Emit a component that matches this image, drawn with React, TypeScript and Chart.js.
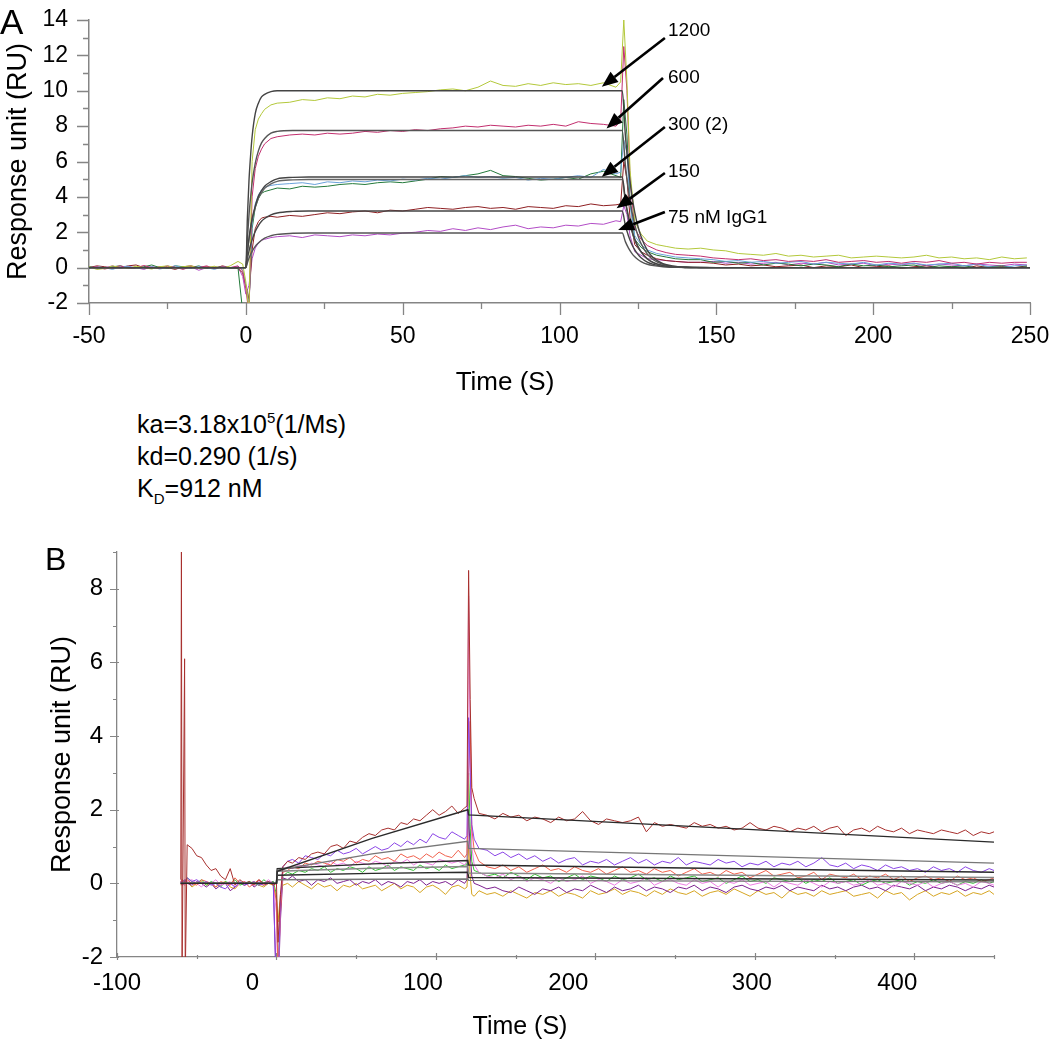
import React, { useEffect, useRef } from 'react';
import { Chart, registerables } from 'chart.js';
Chart.register(...registerables);

const FONT = "'Liberation Sans', Arial, Helvetica, sans-serif";

// ---------------- Panel A data ----------------
const timeA = [
  -50, -47.5, -45, -42.5, -40, -37.5, -35, -32.5, -30, -27.5, -25, -22.5, -20, -17.5, -15, -12.5, -10, -7.5, -5, -2.5,
  -1, 0, 1,
  2, 3, 4, 5, 6, 8,
  10, 14, 18, 22, 26, 30, 34, 38, 42, 46, 50, 54, 58, 62, 66, 70, 74, 78, 82, 86, 90, 94, 98, 102, 106, 110, 114, 118,
  119.5, 120.5, 121.5, 122.5, 124, 126, 128, 131, 134, 137, 141,
  145, 149, 153, 157, 161, 165, 169, 173, 177, 181, 185, 189, 193, 197, 201, 205, 209, 213, 217, 221, 225, 229, 233, 237, 241, 245, 249,
];
const a1200 = [
  0.05, -0.1, -0.05, 0.1, 0.0, -0.05, 0.08, 0.0, -0.08, 0.05, 0.1, -0.02, 0.05, 0.1, -0.05, 0.0, 0.08, -0.05, 0.1, 0.35,
  0.2, -0.8, -2.5,
  6.0, 7.8, 8.4, 8.7, 8.95, 9.2,
  9.3, 9.35, 9.5, 9.45, 9.6, 9.55, 9.7, 9.65, 9.8, 9.75, 9.85, 9.9, 9.95, 10.05, 10.1, 10.0, 10.2, 10.55, 10.3, 10.25, 10.4, 10.3, 10.45, 10.35, 10.4, 10.3, 10.45, 10.2,
  10.5, 14.0, 10.5, 5.5, 2.6, 1.9, 1.5, 1.3, 1.2, 1.1, 1.05,
  1.1, 1.0, 0.95, 0.8, 0.75, 0.7, 0.8, 0.65, 0.7, 0.6, 0.65, 0.7, 0.55, 0.6, 0.65, 0.6, 0.55, 0.6, 0.7, 0.55, 0.6, 0.5, 0.55, 0.45, 0.6, 0.5, 0.55,
];
const a600 = [
  0.0, 0.05, -0.08, 0.02, 0.1, -0.05, 0.0, 0.12, 0.0, -0.05, 0.08, 0.02, -0.1, 0.05, 0.0, 0.1, -0.05, 0.05, 0.0, 0.1,
  -0.2, -1.2, -2.6,
  4.0, 5.6, 6.3, 6.7, 7.0, 7.3,
  7.4, 7.5, 7.55, 7.5, 7.6, 7.55, 7.6, 7.7, 7.65, 7.75, 7.7, 7.8, 7.75, 7.85, 7.9, 8.0, 7.95, 8.05, 8.0, 7.95, 8.05, 8.0, 8.1, 8.0, 8.25, 8.15, 8.1, 8.0,
  8.3, 12.5, 10.0, 5.0, 2.2, 1.6, 1.25, 1.0, 0.85, 0.75, 0.7,
  0.65, 0.55, 0.5, 0.45, 0.5, 0.4, 0.45, 0.35, 0.4, 0.35, 0.45, 0.3, 0.35, 0.4, 0.3, 0.35, 0.25, 0.35, 0.3, 0.4, 0.25, 0.3, 0.2, 0.3, 0.25, 0.3, 0.3,
];
const a300 = [
  -0.05, 0.05, 0.0, -0.1, 0.05, 0.08, -0.05, 0.0, 0.05, -0.08, 0.0, 0.1, 0.0, -0.05, 0.05, 0.0, -0.1, 0.05, 0.0, 0.05,
  -0.1, -1.0, -2.2,
  2.5, 3.6, 4.1, 4.4, 4.55, 4.65,
  4.7, 4.75, 4.8, 4.7, 4.85, 4.8, 4.9, 4.85, 4.95, 4.9, 5.0, 4.95, 5.05, 5.0, 5.1, 5.2, 5.1, 5.15, 5.05, 5.1, 4.95, 5.05, 5.0, 5.1, 5.2, 5.1, 5.55, 5.3,
  5.4, 7.2, 6.5, 3.5, 1.8, 1.3, 1.0, 0.8, 0.7, 0.6, 0.55,
  0.5, 0.45, 0.35, 0.4, 0.3, 0.35, 0.25, 0.3, 0.35, 0.2, 0.3, 0.25, 0.2, 0.3, 0.15, 0.25, 0.2, 0.25, 0.15, 0.2, 0.25, 0.1, 0.2, 0.05, 0.0, 0.1, 0.15,
];
const a300b = [
  0.05, 0.0, -0.05, 0.05, 0.1, 0.0, -0.05, 0.05, 0.15, 0.0, -0.05, 0.1, 0.05, 0.0, 0.1, -0.05, 0.0, 0.05, -0.05, 0.0,
  -2.5, -3.0, -2.0,
  2.2, 3.4, 3.9, 4.2, 4.3, 4.4,
  4.5, 4.45, 4.6, 4.55, 4.6, 4.7, 4.75, 4.7, 4.8, 4.85, 4.8, 4.9, 5.0, 5.15, 5.1, 5.2, 5.3, 5.5, 5.2, 5.15, 5.05, 4.95, 5.0, 5.1, 5.0, 5.3, 5.45, 5.2,
  5.1, 9.5, 7.5, 3.8, 1.6, 1.15, 0.9, 0.7, 0.6, 0.5, 0.45,
  0.45, 0.3, 0.35, 0.25, 0.3, 0.15, 0.25, 0.2, 0.1, 0.2, 0.15, 0.05, 0.2, 0.1, 0.15, 0.05, 0.1, 0.15, 0.0, 0.1, 0.05, 0.1, 0.0, 0.05, 0.1, 0.0, 0.05,
];
const a150 = [
  0.0, 0.1, 0.05, -0.05, 0.0, 0.1, 0.15, 0.0, -0.05, 0.05, 0.0, -0.1, 0.05, 0.1, 0.0, 0.05, -0.05, 0.1, 0.0, -0.05,
  -0.3, -1.0, -1.8,
  1.0, 2.2, 2.6, 2.8, 2.85, 2.9,
  2.85, 2.95, 2.9, 3.0, 3.1, 3.05, 3.15, 3.2, 3.1, 3.25, 3.2, 3.3, 3.4, 3.35, 3.3, 3.4, 3.45, 3.35, 3.4, 3.3, 3.45, 3.4, 3.35, 3.5, 3.45, 3.6, 3.5, 3.55,
  3.6, 6.0, 5.0, 2.8, 1.3, 0.9, 0.7, 0.5, 0.4, 0.35, 0.3,
  0.3, 0.25, 0.15, 0.2, 0.1, 0.15, 0.05, 0.1, 0.15, 0.0, 0.1, 0.05, 0.15, 0.0, 0.05, 0.1, -0.05, 0.05, 0.1, 0.0, 0.05, -0.05, 0.1, 0.0, 0.05, 0.0, 0.1,
];
const a75 = [
  0.05, -0.05, 0.0, 0.1, -0.05, 0.05, 0.0, -0.1, 0.05, 0.0, 0.1, 0.0, -0.05, 0.05, -0.15, 0.0, 0.05, 0.0, -0.05, 0.05,
  -0.5, -1.5, -1.0,
  0.5, 1.1, 1.4, 1.55, 1.6, 1.7,
  1.75, 1.8, 1.7, 1.85, 1.8, 1.75, 1.85, 1.8, 1.9, 1.85, 1.95, 2.0, 2.1, 2.05, 2.2, 2.1, 2.25, 2.15, 2.3, 2.4, 2.2, 2.3, 2.25, 2.4, 2.35, 2.5, 2.45, 2.65,
  2.6, 3.5, 3.0, 1.8, 0.9, 0.7, 0.5, 0.45, 0.4, 0.35, 0.3,
  0.3, 0.35, 0.25, 0.3, 0.2, 0.25, 0.3, 0.15, 0.25, 0.2, 0.3, 0.15, 0.2, 0.25, 0.1, 0.2, 0.15, 0.25, 0.1, 0.2, 0.15, 0.1, 0.2, 0.15, 0.1, 0.2, 0.15,
];

// fitted curves, panel A
const fitTimeA = [-50, 0, 0.5, 1, 1.5, 2, 3, 4, 5, 6, 8, 10, 15, 20, 120, 121, 122, 123, 124, 125, 126, 128, 130, 133, 136, 140, 145, 150, 250];
const fitA1200 = [0, 0, 2.85, 4.9, 6.3, 7.4, 8.7, 9.3, 9.65, 9.8, 9.95, 10.0, 10.0, 10.0, 10.0, 7.48, 5.6, 4.19, 3.13, 2.34, 1.76, 0.98, 0.55, 0.23, 0.1, 0.03, 0.01, 0, 0];
const fitA600 = [0, 0, 1.63, 2.95, 3.95, 4.8, 5.9, 6.6, 7.05, 7.3, 7.6, 7.7, 7.75, 7.75, 7.75, 5.8, 4.34, 3.25, 2.43, 1.81, 1.36, 0.76, 0.43, 0.18, 0.07, 0.02, 0.01, 0, 0];
const fitA300 = [0, 0, 0.9, 1.64, 2.25, 2.76, 3.48, 4.04, 4.35, 4.6, 4.86, 5.02, 5.1, 5.12, 5.12, 3.83, 2.87, 2.15, 1.6, 1.2, 0.9, 0.5, 0.28, 0.12, 0.05, 0.02, 0, 0, 0];
const fitA300b = [0, 0, 0.87, 1.59, 2.19, 2.69, 3.39, 3.93, 4.23, 4.48, 4.73, 4.88, 4.96, 4.98, 4.98, 3.72, 2.79, 2.09, 1.56, 1.17, 0.88, 0.49, 0.27, 0.11, 0.05, 0.01, 0, 0, 0];
const fitA150 = [0, 0, 0.5, 0.93, 1.28, 1.57, 2.05, 2.37, 2.62, 2.78, 2.98, 3.09, 3.18, 3.2, 3.2, 2.39, 1.79, 1.34, 1.0, 0.75, 0.56, 0.31, 0.18, 0.07, 0.03, 0.01, 0, 0, 0];
const fitA75 = [0, 0, 0.28, 0.53, 0.74, 0.92, 1.2, 1.39, 1.55, 1.67, 1.8, 1.88, 1.94, 1.96, 1.96, 1.47, 1.1, 0.82, 0.61, 0.46, 0.34, 0.19, 0.11, 0.05, 0.02, 0.01, 0, 0, 0];

// arrow annotations, panel A (data coordinates)
const arrowLabels = ['1200', '600', '300 (2)', '150', '75 nM IgG1'];
const arrowTipT = [113.5, 115.0, 113.5, 118.2, 118.7];
const arrowTipR = [10.23, 7.87, 5.14, 3.35, 2.13];
const arrowTailT = [133.6, 133.0, 133.6, 133.6, 133.6];
const arrowTailR = [12.98, 10.72, 7.95, 5.35, 3.14];
const labelT = [134.6, 134.6, 134.6, 134.6, 134.6];
const labelR = [13.4, 10.72, 8.06, 5.4, 2.8];

// ---------------- Panel B data ----------------
const timeB = [
  -60, -59.6, -59.2, -57.6, -57.2, -56, -53, -50, -47, -44, -41, -38, -35, -32, -29, -26, -23, -20, -17, -14, -11, -8, -5, -2,
  0, 1, 2.5,
  4, 7, 10, 14, 18, 22, 26, 30, 34, 38, 42, 46, 50, 54, 58, 62, 66, 70, 74, 78, 82, 86, 90, 94, 98, 102, 106, 110, 114, 118,
  119.5, 120.5, 121.5, 122.5, 124,
  127, 132, 137, 142, 147, 152, 157, 162, 167, 172, 177, 182, 187, 192, 197, 202, 207, 212, 217, 222,
  227, 232, 237, 242, 247, 252, 257, 262, 267, 272, 277, 282, 287, 292, 297, 302, 307, 312, 317, 322,
  327, 332, 337, 342, 347, 352, 357, 362, 367, 372, 377, 382, 387, 392, 397, 402, 407, 412, 417, 422,
  427, 432, 437, 442, 447, 450,
];
const bDarkRed = [
  0.1, 9.6, -2.6, 6.1, -2.6, 1.05, 0.95, 0.75, 0.7, 0.5, 0.35, 0.4, 0.2, 0.1, 0.4, -0.05, 0.1, 0.0, 0.05, -0.05, 0.1, 0.0, 0.05, -0.05,
  0.0, -1.6, -0.3,
  0.45, 0.6, 0.55, 0.7, 0.65, 0.8, 0.85, 0.8, 1.0, 1.05, 0.95, 1.15, 1.1, 1.25, 1.35, 1.3, 1.45, 1.5, 1.45, 1.65, 1.6, 1.75, 1.7, 1.85, 2.0, 1.85, 1.95, 2.1, 1.9, 2.05,
  2.1, 8.5, 5.0, 2.6, 2.3,
  1.9, 1.85, 1.75, 1.9, 1.8, 1.85, 1.7, 1.8, 1.75, 1.65, 1.8, 1.7, 1.75, 1.95, 1.7, 1.6, 1.75, 1.7, 1.65, 1.7,
  1.8, 1.4, 1.65, 1.55, 1.6, 1.55, 1.5, 1.65, 1.55, 1.6, 1.5, 1.55, 1.45, 1.5, 1.65, 1.5, 1.45, 1.55, 1.5, 1.4,
  1.5, 1.45, 1.55, 1.4, 1.5, 1.55, 1.3, 1.45, 1.5, 1.4, 1.55, 1.45, 1.4, 1.5, 1.35, 1.45, 1.4, 1.35, 1.45, 1.4,
  1.35, 1.45, 1.3, 1.4, 1.35, 1.4,
];
const bViolet = [
  0.0, 0.05, 0.0, 0.1, 0.05, 0.15, 0.05, 0.1, 0.0, 0.05, -0.05, 0.0, -0.1, -0.15, 0.0, -0.1, 0.05, -0.05, 0.0, 0.05, -0.05, 0.0, 0.05, 0.0,
  -3.0, -3.0, -0.5,
  0.45, 0.6, 0.65, 0.55, 0.75, 0.7, 0.65, 0.8, 0.75, 0.9, 0.8, 0.85, 0.95, 0.8, 0.9, 1.0, 0.9, 0.95, 1.1, 1.0, 1.15, 1.05, 1.2, 1.1, 1.35, 1.25, 1.2, 1.4, 1.3, 1.2,
  1.3, 4.5, 3.0, 1.6, 1.2,
  0.95, 0.9, 0.75, 0.85, 0.7, 0.8, 0.65, 0.75, 0.6, 0.7, 0.55, 0.65, 0.7, 0.5, 0.6, 0.55, 0.65, 0.5, 0.6, 0.7,
  0.55, 0.65, 0.5, 0.6, 0.55, 0.7, 0.5, 0.6, 0.55, 0.5, 0.65, 0.55, 0.6, 0.45, 0.55, 0.5, 0.6, 0.45, 0.55, 0.5,
  0.6, 0.45, 0.55, 0.7, 0.5, 0.45, 0.55, 0.4, 0.5, 0.45, 0.35, 0.5, 0.4, 0.45, 0.35, 0.4, 0.3, 0.45, 0.35, 0.4,
  0.3, 0.45, 0.35, 0.3, 0.4, 0.35,
];
const bSalmon = [
  0.05, 0.0, 0.1, 0.0, 0.05, 0.1, 0.0, -0.05, 0.1, 0.05, 0.0, -0.1, 0.05, 0.0, -0.05, 0.15, 0.0, 0.05, -0.1, 0.0, 0.1, -0.05, 0.05, 0.0,
  -0.5, -2.5, -0.8,
  0.3, 0.35, 0.45, 0.4, 0.55, 0.5, 0.6, 0.55, 0.5, 0.65, 0.6, 0.7, 0.55, 0.65, 0.6, 0.75, 0.65, 0.7, 0.6, 0.8, 0.7, 0.75, 0.65, 0.8, 0.7, 0.85, 0.75, 0.7, 0.9, 0.7,
  0.8, 3.0, 4.4, 1.5, 0.9,
  0.6, 0.45, 0.4, 0.5, 0.35, 0.45, 0.3, 0.4, 0.5, 0.35, 0.4, 0.3, 0.45, 0.35, 0.3, 0.4, 0.25, 0.35, 0.45, 0.3,
  0.35, 0.25, 0.4, 0.3, 0.35, 0.2, 0.3, 0.4, 0.25, 0.3, 0.2, 0.35, 0.25, 0.3, 0.15, 0.25, 0.35, 0.2, 0.25, 0.3,
  0.15, 0.2, 0.3, 0.1, 0.25, 0.2, 0.15, 0.25, 0.1, 0.2, 0.15, 0.25, 0.1, 0.2, 0.05, 0.15, 0.2, 0.1, 0.15, 0.05,
  0.2, 0.1, 0.15, 0.05, 0.1, 0.15,
];
const bPink = [
  0.0, 0.1, 0.05, -0.05, 0.0, 0.05, 0.1, 0.0, -0.1, 0.05, 0.0, 0.1, -0.05, 0.0, 0.05, -0.1, 0.0, 0.05, 0.0, -0.05, 0.05, 0.0, 0.1, 0.0,
  -0.8, -3.0, -0.6,
  0.35, 0.45, 0.4, 0.5, 0.45, 0.55, 0.5, 0.45, 0.6, 0.5, 0.55, 0.45, 0.6, 0.55, 0.5, 0.6, 0.55, 0.45, 0.6, 0.55, 0.65, 0.5, 0.6, 0.55, 0.5, 0.65, 0.6, 0.55, 0.6, 0.5,
  0.6, 7.8, 3.5, 1.0, 0.5,
  0.3, 0.2, 0.15, 0.25, 0.1, 0.2, 0.05, 0.15, 0.1, 0.0, 0.15, 0.05, 0.1, 0.2, 0.0, 0.1, 0.05, -0.05, 0.1, 0.0,
  0.05, 0.15, -0.05, 0.05, 0.1, 0.0, -0.05, 0.1, 0.0, 0.05, -0.1, 0.05, 0.0, 0.1, -0.05, 0.0, 0.05, -0.1, 0.05, 0.0,
  -0.05, 0.1, 0.0, -0.1, 0.05, 0.0, 0.05, -0.05, 0.0, 0.1, -0.05, 0.0, -0.1, 0.05, 0.0, -0.05, 0.05, -0.1, 0.0, 0.05,
  -0.05, 0.0, -0.1, 0.05, 0.0, -0.05,
];
const bGreen = [
  0.05, 0.0, 0.1, 0.05, 0.0, 0.15, 0.05, 0.0, 0.1, -0.05, 0.05, 0.0, -0.1, 0.05, 0.0, 0.1, -0.05, 0.0, 0.05, 0.0, -0.05, 0.1, 0.0, 0.05,
  -0.3, -2.5, -0.5,
  0.2, 0.3, 0.25, 0.35, 0.3, 0.4, 0.35, 0.45, 0.3, 0.4, 0.35, 0.45, 0.4, 0.3, 0.45, 0.35, 0.4, 0.5, 0.35, 0.45, 0.4, 0.35, 0.5, 0.4, 0.45, 0.35, 0.5, 0.4, 0.45, 0.5,
  0.5, 3.0, 1.5, 0.6, 0.35,
  0.3, 0.2, 0.25, 0.15, 0.3, 0.2, 0.1, 0.25, 0.15, 0.2, 0.05, 0.15, 0.25, 0.1, 0.2, 0.15, 0.05, 0.2, 0.1, 0.15,
  0.25, 0.1, 0.15, 0.05, 0.2, 0.1, 0.15, 0.2, 0.05, 0.1, 0.15, 0.0, 0.1, 0.2, 0.05, 0.1, 0.0, 0.15, 0.1, 0.05,
  0.15, 0.0, 0.1, 0.05, 0.15, 0.0, 0.05, 0.1, -0.05, 0.05, 0.1, 0.0, 0.05, 0.1, -0.05, 0.05, 0.0, 0.1, 0.0, 0.05,
  -0.05, 0.05, 0.0, 0.1, 0.0, 0.05,
];
const bPurple = [
  0.0, 0.05, -0.05, 0.0, 0.1, 0.0, -0.05, 0.05, 0.0, -0.1, 0.0, -0.15, -0.05, 0.0, -0.2, -0.1, 0.0, -0.05, 0.05, -0.1, 0.0, -0.05, 0.0, 0.05,
  -3.0, -3.0, -1.0,
  0.15, 0.1, 0.2, 0.05, 0.1, -0.05, 0.1, 0.05, 0.15, 0.0, 0.05, 0.1, -0.05, 0.05, 0.0, 0.1, -0.05, 0.05, 0.0, -0.1, 0.05, 0.0, 0.1, -0.05, 0.05, 0.0, 0.05, -0.05, 0.1, 0.0,
  0.1, 2.0, 0.8, 0.2, 0.0,
  -0.05, -0.15, -0.1, -0.2, -0.25, -0.1, -0.2, -0.3, -0.15, -0.2, -0.1, -0.25, -0.15, -0.2, -0.05, -0.15, -0.25, -0.1, -0.2, -0.15,
  -0.05, -0.2, -0.1, -0.15, -0.25, -0.1, -0.15, -0.05, -0.2, -0.1, -0.15, -0.25, -0.1, -0.05, -0.15, -0.2, -0.1, -0.15, -0.05, -0.2,
  -0.1, -0.15, -0.2, -0.05, -0.15, -0.1, -0.2, -0.1, -0.05, -0.15, -0.1, -0.2, -0.05, -0.1, -0.15, -0.05, -0.2, -0.1, -0.15, -0.05,
  -0.1, -0.2, -0.1, -0.15, -0.05, -0.1,
];
const bGold = [
  -0.05, 0.0, 0.05, -0.05, 0.0, 0.05, -0.1, 0.0, 0.05, -0.05, 0.0, -0.1, 0.0, 0.05, -0.1, -0.15, 0.0, -0.05, 0.0, 0.05, -0.05, -0.1, 0.0, -0.05,
  -0.4, -1.05, -0.3,
  -0.05, 0.0, -0.1, 0.05, -0.05, -0.15, 0.0, -0.1, -0.05, -0.2, -0.05, -0.1, 0.0, -0.15, -0.1, -0.05, -0.2, -0.1, 0.0, -0.15, -0.05, -0.1, -0.25, -0.1, -0.05, -0.15, -0.3, -0.1, -0.05, -0.15,
  -0.1, 1.0, 0.2, -0.3, -0.35,
  -0.2, -0.3, -0.25, -0.35, -0.2, -0.3, -0.4, -0.25, -0.3, -0.2, -0.35, -0.25, -0.3, -0.4, -0.2, -0.3, -0.25, -0.15, -0.3, -0.2,
  -0.25, -0.35, -0.2, -0.3, -0.15, -0.25, -0.3, -0.2, -0.35, -0.25, -0.2, -0.3, -0.15, -0.25, -0.35, -0.2, -0.3, -0.25, -0.4, -0.2,
  -0.3, -0.25, -0.35, -0.2, -0.3, -0.25, -0.2, -0.35, -0.3, -0.25, -0.4, -0.2, -0.3, -0.25, -0.45, -0.3, -0.2, -0.35, -0.25, -0.3,
  -0.2, -0.35, -0.25, -0.3, -0.2, -0.3,
];

// fitted curves, panel B
const fitTimeB = [-60, 0, 0.5, 60, 120, 120.5, 450];
const fitB1 = [0, 0, 0.33, 1.22, 2.0, 1.86, 1.12];
const fitB2 = [0, 0, 0.36, 0.8, 1.14, 0.95, 0.55];
const fitB3 = [0, 0, 0.4, 0.53, 0.62, 0.5, 0.3];
const fitB4 = [0, 0, 0.33, 0.41, 0.46, 0.28, 0.16];
const fitB5 = [0, 0, 0.22, 0.27, 0.3, 0.16, 0.09];
const fitB6 = [0, 0, 0.1, 0.11, 0.12, 0.08, 0.04];

// ---------------- helpers & plugins ----------------
const pts = (ts: number[], vs: number[]) => ts.map((t, i) => ({ x: t, y: vs[i] }));

const tickPlugin: any = {
  id: 'tickMarks',
  afterDraw(chart: any, _args: any, o: any) {
    const { ctx, chartArea } = chart;
    const xs = chart.scales.x;
    const ys = chart.scales.y;
    ctx.save();
    ctx.strokeStyle = o.color;
    ctx.lineWidth = o.width;
    ctx.beginPath();
    for (const t of xs.ticks) {
      const px = Math.round(xs.getPixelForValue(t.value)) + 0.5;
      const major = Math.abs(t.value % o.xMajor) < 1e-9;
      const s = major ? o.xMajorSpan : o.xMinorSpan;
      ctx.moveTo(px, chartArea.bottom + s[0]);
      ctx.lineTo(px, chartArea.bottom + s[1]);
    }
    for (const t of ys.ticks) {
      const py = Math.round(ys.getPixelForValue(t.value)) + 0.5;
      const major = Math.abs(t.value % o.yMajor) < 1e-9;
      const s = major ? o.yMajorSpan : o.yMinorSpan;
      ctx.moveTo(chartArea.left - s[0], py);
      ctx.lineTo(chartArea.left - s[1], py);
    }
    ctx.stroke();
    // optional hand-placed x tick labels (label centres are nudged like in the source figure)
    if (o.xLabelShift) {
      ctx.fillStyle = '#000';
      ctx.font = `${o.xLabelSize}px ${FONT}`;
      ctx.textAlign = 'center';
      ctx.textBaseline = 'middle';
      for (const t of xs.ticks) {
        if (Math.abs(t.value % o.xMajor) > 1e-9) continue;
        const sh = o.xLabelShift[String(t.value)];
        if (sh === undefined) continue;
        ctx.fillText(String(t.value), xs.getPixelForValue(t.value) + sh, chartArea.bottom + o.xLabelDy);
      }
    }
    ctx.restore();
  },
};

const arrowPlugin: any = {
  id: 'arrowNotes',
  afterDatasetsDraw(chart: any) {
    const xs = chart.scales.x;
    const ys = chart.scales.y;
    const ctx = chart.ctx;
    ctx.save();
    for (let i = 0; i < arrowLabels.length; i++) {
      const x0 = xs.getPixelForValue(arrowTailT[i]);
      const y0 = ys.getPixelForValue(arrowTailR[i]);
      const x1 = xs.getPixelForValue(arrowTipT[i]);
      const y1 = ys.getPixelForValue(arrowTipR[i]);
      const ang = Math.atan2(y1 - y0, x1 - x0);
      const head = 16;
      const half = 6.5;
      const bx = x1 - head * Math.cos(ang);
      const by = y1 - head * Math.sin(ang);
      ctx.strokeStyle = '#000';
      ctx.lineWidth = 2.6;
      ctx.beginPath();
      ctx.moveTo(x0, y0);
      ctx.lineTo(bx, by);
      ctx.stroke();
      ctx.fillStyle = '#000';
      ctx.beginPath();
      ctx.moveTo(x1, y1);
      ctx.lineTo(bx + half * Math.sin(ang), by - half * Math.cos(ang));
      ctx.lineTo(bx - half * Math.sin(ang), by + half * Math.cos(ang));
      ctx.closePath();
      ctx.fill();
      ctx.font = `19px ${FONT}`;
      ctx.textAlign = 'left';
      ctx.textBaseline = 'middle';
      ctx.fillText(arrowLabels[i], xs.getPixelForValue(labelT[i]), ys.getPixelForValue(labelR[i]));
    }
    ctx.restore();
  },
};

function traceDs(label: string, ts: number[], vs: number[], color: string) {
  return { label, data: pts(ts, vs), borderColor: color, borderWidth: 1, pointRadius: 0, tension: 0, fill: false };
}
function fitDs(label: string, ts: number[], vs: number[], color: string, width: number, smooth: boolean) {
  return {
    label, data: pts(ts, vs), borderColor: color, borderWidth: width, pointRadius: 0, fill: false,
    cubicInterpolationMode: smooth ? 'monotone' : 'default', tension: 0,
  };
}

export default function App() {
  const refA = useRef<HTMLCanvasElement>(null);
  const refB = useRef<HTMLCanvasElement>(null);

  useEffect(() => {
    Chart.defaults.font.family = FONT;
    const tickFontA = { family: FONT, size: 23 };
    const tickFontB = { family: FONT, size: 24 };

    const chartA = new Chart(refA.current as HTMLCanvasElement, {
      type: 'line',
      data: {
        datasets: [
          fitDs('fit 1200', fitTimeA, fitA1200, '#444', 1.4, true),
          fitDs('fit 600', fitTimeA, fitA600, '#555', 1.4, true),
          fitDs('fit 300', fitTimeA, fitA300, '#444', 1.4, true),
          fitDs('fit 300 (2)', fitTimeA, fitA300b, '#666', 1.4, true),
          fitDs('fit 150', fitTimeA, fitA150, '#444', 1.4, true),
          fitDs('fit 75', fitTimeA, fitA75, '#555', 1.4, true),
          traceDs('1200 nM', timeA, a1200, '#b3c83a'),
          traceDs('600 nM', timeA, a600, '#c22e6e'),
          traceDs('300 nM', timeA, a300, '#6aa2da'),
          traceDs('300 nM (2)', timeA, a300b, '#23793a'),
          traceDs('150 nM', timeA, a150, '#8e1f22'),
          traceDs('75 nM', timeA, a75, '#b24cc6'),
        ] as any,
      },
      options: {
        responsive: false,
        animation: false,
        events: [],
        layout: { padding: { left: 0, right: 20, top: 20, bottom: 0 } },
        plugins: {
          legend: { display: false },
          tooltip: { enabled: false },
          tickMarks: {
            color: '#858585', width: 1.3,
            xMajor: 50, xMajorSpan: [0, 12], xMinorSpan: [0, 6],
            yMajor: 2, yMajorSpan: [0, 12], yMinorSpan: [0, 6],
          },
        } as any,
        scales: {
          x: {
            type: 'linear', min: -50, max: 250,
            afterFit: (s: any) => { s.height = 97; },
            grid: { display: false, drawTicks: true, tickLength: 20 },
            border: { display: true, color: '#858585', width: 1.5 },
            ticks: {
              stepSize: 25, autoSkip: false, maxRotation: 0, padding: 0, color: '#000', font: tickFontA,
              callback: (v: any) => (Math.abs(v % 50) < 1e-9 ? String(v) : ''),
            },
          },
          y: {
            type: 'linear', min: -2, max: 14,
            afterFit: (s: any) => { s.width = 89; },
            grid: { display: false, drawTicks: true, tickLength: 21 },
            border: { display: true, color: '#858585', width: 1.5 },
            ticks: {
              stepSize: 1, autoSkip: false, padding: 0, color: '#000', font: tickFontA,
              callback: (v: any) => (Math.abs(v % 2) < 1e-9 ? String(v) : ''),
            },
            title: {
              display: true, text: 'Response unit (RU)', color: '#000',
              font: { family: FONT, size: 27 }, padding: { top: 2, bottom: 0 },
            },
          },
        } as any,
      },
      plugins: [tickPlugin, arrowPlugin],
    } as any);

    const chartB = new Chart(refB.current as HTMLCanvasElement, {
      type: 'line',
      data: {
        datasets: [
          fitDs('fit 1', fitTimeB, fitB1, '#2a2a2a', 1.4, false),
          fitDs('fit 2', fitTimeB, fitB2, '#777', 1.4, false),
          fitDs('fit 3', fitTimeB, fitB3, '#2a2a2a', 1.4, false),
          fitDs('fit 4', fitTimeB, fitB4, '#888', 1.4, false),
          fitDs('fit 5', fitTimeB, fitB5, '#2a2a2a', 1.4, false),
          fitDs('fit 6', fitTimeB, fitB6, '#777', 1.4, false),
          traceDs('dark red', timeB, bDarkRed, '#a8302e'),
          traceDs('violet', timeB, bViolet, '#8b45e6'),
          traceDs('salmon', timeB, bSalmon, '#f0624e'),
          traceDs('pink', timeB, bPink, '#ee7ee4'),
          traceDs('green', timeB, bGreen, '#36c236'),
          traceDs('purple', timeB, bPurple, '#7e2190'),
          traceDs('gold', timeB, bGold, '#d6a522'),
        ] as any,
      },
      options: {
        responsive: false,
        animation: false,
        events: [],
        layout: { padding: { left: 0, right: 56, top: 32, bottom: 0 } },
        plugins: {
          legend: { display: false },
          tooltip: { enabled: false },
          tickMarks: {
            color: '#858585', width: 1.2,
            xMajor: 100, xMajorSpan: [-4, 3], xMinorSpan: [-2, 2],
            yMajor: 2, yMajorSpan: [-2, 7], yMinorSpan: [0, 4],
            xLabelShift: { '-100': 0, '0': -24, '100': -13, '200': -27, '300': -3, '400': -17 },
            xLabelSize: 24, xLabelDy: 26,
          },
        } as any,
        scales: {
          x: {
            type: 'linear', min: -100, max: 450,
            afterFit: (s: any) => { s.height = 86; },
            grid: { display: false, drawTicks: false },
            border: { display: true, color: '#858585', width: 1.3 },
            ticks: { display: false, stepSize: 50, autoSkip: false, maxRotation: 0 },
          },
          y: {
            type: 'linear', min: -2, max: 9,
            afterFit: (s: any) => { s.width = 117; },
            grid: { display: false, drawTicks: false },
            border: { display: true, color: '#858585', width: 1.3 },
            ticks: {
              stepSize: 1, autoSkip: false, padding: 14, color: '#000', font: tickFontB,
              callback: (v: any) => (Math.abs(v % 2) < 1e-9 && v < 9 ? String(v) : ''),
            },
            title: {
              display: true, text: 'Response unit (RU)', color: '#000',
              font: { family: FONT, size: 27 }, padding: { top: 46, bottom: 0 },
            },
          },
        } as any,
      },
      plugins: [tickPlugin],
    } as any);

    return () => {
      chartA.destroy();
      chartB.destroy();
    };
  }, []);

  const txt: React.CSSProperties = { position: 'absolute', whiteSpace: 'nowrap', color: '#000' };
  return (
    <div style={{ position: 'absolute', left: 0, top: 0, width: 1050, height: 1043, fontFamily: FONT, background: '#fff', overflow: 'hidden' }}>
      <canvas ref={refA} width={1050} height={400} style={{ position: 'absolute', left: 0, top: 0 }} />
      <canvas ref={refB} width={1050} height={523} style={{ position: 'absolute', left: 0, top: 520 }} />
      <div style={{ ...txt, left: 0, top: 4, fontSize: 35, lineHeight: '35px' }}>A</div>
      <div style={{ ...txt, left: 45, top: 543, fontSize: 32, lineHeight: '32px' }}>B</div>
      <div style={{ ...txt, left: 405, top: 365, width: 200, textAlign: 'center', fontSize: 26, lineHeight: '32px' }}>Time (S)</div>
      <div style={{ ...txt, left: 420, top: 1009, width: 200, textAlign: 'center', fontSize: 25, lineHeight: '32px' }}>Time (S)</div>
      <div style={{ ...txt, left: 137, top: 408, fontSize: 25, lineHeight: '32px' }}>
        ka=3.18x10<span style={{ fontSize: 15, position: 'relative', top: -10 }}>5</span>(1/Ms)
      </div>
      <div style={{ ...txt, left: 137, top: 440, fontSize: 25, lineHeight: '32px' }}>kd=0.290 (1/s)</div>
      <div style={{ ...txt, left: 137, top: 472, fontSize: 25, lineHeight: '32px' }}>
        K<span style={{ fontSize: 15, position: 'relative', top: 7 }}>D</span>=912 nM
      </div>
    </div>
  );
}
